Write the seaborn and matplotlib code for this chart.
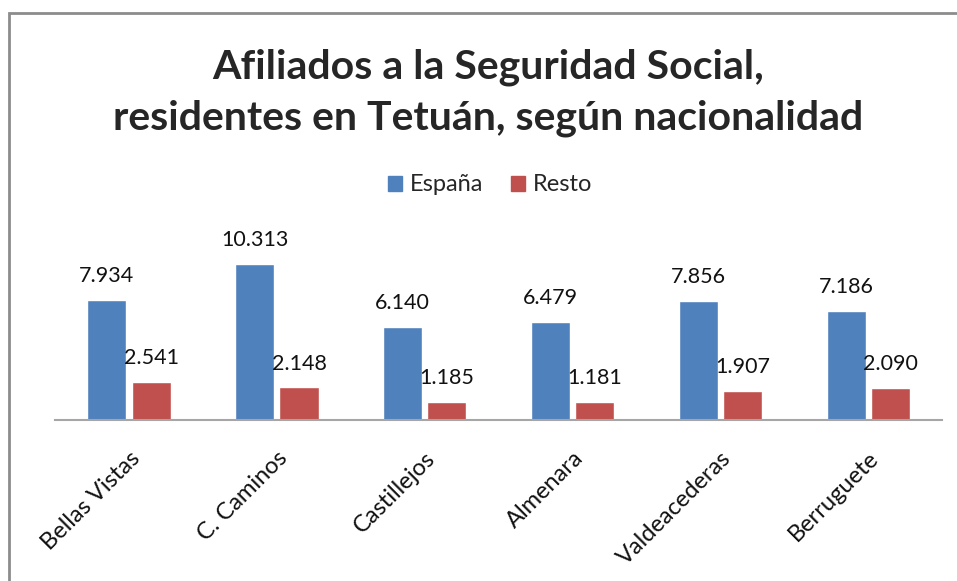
import pandas as pd
import seaborn as sns
import matplotlib.pyplot as plt
from matplotlib.patches import Rectangle

# ---------------- data ----------------
barrios = ['Bellas Vistas', 'C. Caminos', 'Castillejos', 'Almenara', 'Valdeacederas', 'Berruguete']
espana = [7934, 10313, 6140, 6479, 7856, 7186]
resto = [2541, 2148, 1185, 1181, 1907, 2090]
series = ['España', 'Resto']
colores = ['#4F81BD', '#C0504D']

df = pd.DataFrame({
    'barrio': barrios * 2,
    'serie': [series[0]] * len(barrios) + [series[1]] * len(barrios),
    'valor': espana + resto,
})

sns.set_style('white')
plt.rcParams['font.family'] = ['Lato', 'DejaVu Sans']

fig = plt.figure(figsize=(9.57, 5.81), dpi=100)
ax = fig.add_axes([0.0575, 0.2771, 0.927, 0.3126])

sns.barplot(data=df, x='barrio', y='valor', hue='serie', palette=colores,
            saturation=1, width=0.6, gap=0.12, ax=ax, legend=False)

for cont in ax.containers:
    ax.bar_label(cont, labels=[f'{v:,.0f}'.replace(',', '.') for v in cont.datavalues],
                 padding=10, fontsize=15.5, color='#111111')

ax.set_ylim(0, 12000)
ax.set_xlim(-0.5, 5.5)
ax.set_xlabel('')
ax.set_ylabel('')
ax.set_yticks([])
for s in ['left', 'right', 'top']:
    ax.spines[s].set_visible(False)
ax.spines['bottom'].set_color('#a6a6a6')
ax.spines['bottom'].set_linewidth(1.5)
ax.tick_params(axis='x', length=0, pad=20)
for lab in ax.get_xticklabels():
    lab.set_rotation(45)
    lab.set_ha('right')
    lab.set_rotation_mode('anchor')
    lab.set_fontsize(17)
    lab.set_color('#111111')

# legend
handles = [Rectangle((0, 0), 1, 1, color=c) for c in colores]
fig.legend(handles, series, loc='center', bbox_to_anchor=(490 / 957, 1 - 185 / 581),
           ncol=2, frameon=False, fontsize=17, handlelength=0.6, handleheight=0.6,
           handletextpad=0.3, columnspacing=1.2)

# title
fig.text(488 / 957, 1 - 93 / 581,
         'Afiliados a la Seguridad Social,\nresidentes en Tetuán, según nacionalidad',
         ha='center', va='center', fontsize=29.5, fontweight='bold', linespacing=1.45)

# chart border (cropped on right and bottom)
fig.patches.append(Rectangle((9 / 957, -0.2), 1.2, 1.2 - 13 / 581,
                             transform=fig.transFigure, fill=False,
                             edgecolor='#8c8c8c', linewidth=2, clip_on=False))

fig.savefig('out.png', dpi=100)
